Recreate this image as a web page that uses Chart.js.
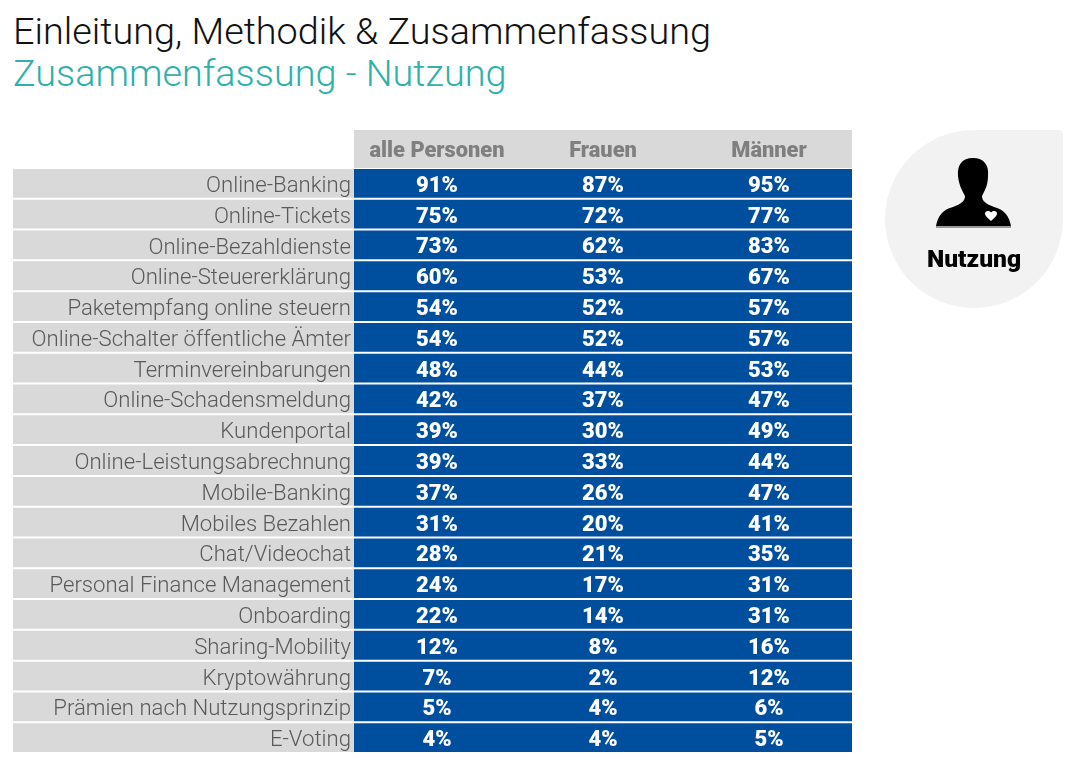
<!DOCTYPE html>
<html lang="de">
<head>
<meta charset="utf-8">
<title>Zusammenfassung - Nutzung</title>
<script src="https://cdn.jsdelivr.net/npm/chart.js@4/dist/chart.umd.min.js"></script>
<style>
  html, body { margin: 0; padding: 0; background: #fff; }
  #page { position: relative; width: 1081px; height: 757px; overflow: hidden; font-family: Roboto, sans-serif; }
  #chart { position: absolute; left: 0; top: 0; }
  .head { position: absolute; left: 13px; font-weight: 300; font-size: 37.8px; line-height: 42px; white-space: nowrap; }
  #badge { position: absolute; left: 885px; top: 130px; width: 178px; height: 178px; background: #f2f2f2;
           border-radius: 50% 4px 50% 50%; }
  #badgeText { position: absolute; left: 885px; width: 178px; top: 244px; text-align: center;
               font-weight: 900; font-size: 24.6px; line-height: 30px; color: #000; }
  #icon { position: absolute; left: 0; top: 0; }
</style>
</head>
<body>
<div id="page">
  <div class="head" style="top:10px;color:#111">Einleitung, Methodik &amp; Zusammenfassung</div>
  <div class="head" style="top:52px;color:#2fb0aa">Zusammenfassung - Nutzung</div>
  <canvas id="chart" width="1081" height="757"></canvas>
  <div id="badge"></div>
  <svg id="icon" width="1081" height="757">
    <path fill="#000" d="M973 158 C962 158 957 165 958 176 C959 186 963 192 965 196 C965 201 961 204 953 207 C942 210 938 216 936 226 L1011 226 C1009 216 1005 210 994 207 C986 204 982 201 982 196 C984 192 988 186 988 176 C989 165 984 158 973 158 Z"/>
    <rect x="936" y="226" width="75" height="2" fill="#999"/>
    <path fill="#fff" d="M991 221 C988 218 985 216 985 213.500 C985 211 988.500 210 991 212.500 C993.500 210 997 211 997 213.500 C997 216 994 218 991 221 Z"/>
  </svg>
  <div id="badgeText">Nutzung</div>
</div>
<script>
var rows = ["Online-Banking", "Online-Tickets", "Online-Bezahldienste", "Online-Steuererklärung",
  "Paketempfang online steuern", "Online-Schalter öffentliche Ämter", "Terminvereinbarungen",
  "Online-Schadensmeldung", "Kundenportal", "Online-Leistungsabrechnung", "Mobile-Banking",
  "Mobiles Bezahlen", "Chat/Videochat", "Personal Finance Management", "Onboarding",
  "Sharing-Mobility", "Kryptowährung", "Prämien nach Nutzungsprinzip", "E-Voting"];
var columns = ["alle Personen", "Frauen", "Männer"];
var allePersonen = [91, 75, 73, 60, 54, 54, 48, 42, 39, 39, 37, 31, 28, 24, 22, 12, 7, 5, 4];
var frauen = [87, 72, 62, 53, 52, 52, 44, 37, 30, 33, 26, 20, 21, 17, 14, 8, 2, 4, 4];
var maenner = [95, 77, 83, 67, 57, 57, 53, 47, 49, 44, 47, 41, 35, 31, 31, 16, 12, 6, 5];
var columnValues = [allePersonen, frauen, maenner];

var blue = '#004f9f';
var grey = '#d9d9d9';
// the label area left of the table is 341px wide, one column is 166px
var xMin = -341 / 166;

// each column is a row of unit-wide floating bars, the grey band holds the row names
var datasets = [{
  label: 'band',
  data: rows.map(function() { return [xMin, 0]; }),
  backgroundColor: grey
}];
columns.forEach(function(name, i) {
  datasets.push({
    label: name,
    data: rows.map(function() { return [i, i + 1]; }),
    backgroundColor: blue,
    values: columnValues[i]
  });
});

// grey box behind the column headers, row names sit a bit low in their cells
var headerBand = {
  id: 'headerBand',
  beforeDraw: function(chart) {
    var x = chart.scales.x, ctx = chart.ctx;
    ctx.save();
    ctx.fillStyle = grey;
    ctx.fillRect(x.getPixelForValue(0), x.top, x.getPixelForValue(3) - x.getPixelForValue(0), x.bottom - x.top);
    ctx.restore();
    chart.scales.y.getLabelItems().forEach(function(item) {
      item.options.translation[1] += 3;
    });
  }
};

// white percent text in the middle of every cell
var cellText = {
  id: 'cellText',
  afterDatasetsDraw: function(chart) {
    var ctx = chart.ctx;
    ctx.save();
    ctx.fillStyle = '#fff';
    ctx.font = '900 22px Roboto';
    ctx.textAlign = 'center';
    ctx.textBaseline = 'middle';
    chart.data.datasets.forEach(function(ds, d) {
      if (!ds.values) return;
      chart.getDatasetMeta(d).data.forEach(function(bar, i) {
        ctx.fillText(ds.values[i] + '%', bar.getCenterPoint().x, bar.y + 3);
      });
    });
    ctx.restore();
  }
};

var chart = new Chart(document.getElementById('chart'), {
  type: 'bar',
  data: { labels: rows, datasets: datasets },
  plugins: [headerBand, cellText],
  options: {
    indexAxis: 'y',
    responsive: false,
    animation: false,
    layout: { padding: { left: 13, top: 130, right: 229, bottom: 4 } },
    datasets: { bar: { grouped: false, categoryPercentage: 1, barPercentage: 0.935, borderWidth: 0 } },
    plugins: { legend: { display: false }, tooltip: { enabled: false }, title: { display: false } },
    scales: {
      x: {
        type: 'linear',
        position: 'top',
        min: xMin,
        max: 3,
        grid: { display: false, drawTicks: false },
        border: { display: false },
        afterBuildTicks: function(scale) {
          scale.ticks = columns.map(function(c, i) { return { value: i + 0.5 }; });
        },
        afterFit: function(scale) { scale.height = 38; },
        ticks: {
          autoSkip: false,
          maxRotation: 0,
          padding: 3,
          color: '#7f7f7f',
          font: { family: 'Roboto', weight: '900', size: 21.8 },
          callback: function(value) { return columns[value - 0.5]; }
        }
      },
      y: {
        type: 'category',
        // labels end 3px left of the table
        position: { x: -3 / 166 },
        afterFit: function(scale) { scale.paddingTop = 0; scale.paddingBottom = 0; },
        grid: { display: false, drawTicks: false },
        border: { display: false },
        ticks: {
          z: 1,
          autoSkip: false,
          padding: 0,
          color: '#595959',
          font: { family: 'Roboto', weight: '300', size: 22.15 }
        }
      }
    }
  }
});
</script>
</body>
</html>
